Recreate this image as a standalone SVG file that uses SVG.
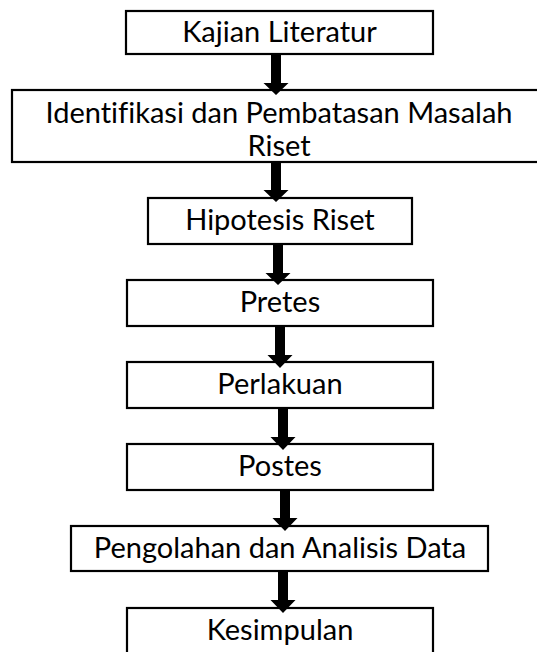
<svg xmlns="http://www.w3.org/2000/svg" width="537" height="652" viewBox="0 0 537 652">
<style>
.box{fill:#fff;stroke:#000;stroke-width:2.2}
.t{font-family:Lato,"Noto Sans",sans-serif;font-size:29px;fill:#000;text-anchor:middle;font-variant-ligatures:none}
.arr{fill:#000}
</style>
<rect width="537" height="652" fill="#fff"/>
<g id="n1"><rect class="box" x="126" y="11" width="307" height="43"/><text class="t" x="279.5" y="42">Kajian Literatur</text></g>
<g id="n2"><rect class="box" x="12" y="90" width="536" height="72"/><text class="t" x="279" y="123">Identifikasi dan Pembatasan Masalah</text><text class="t" x="279" y="156">Riset</text></g>
<g id="n3"><rect class="box" x="148" y="198" width="264" height="46"/><text class="t" x="280" y="230">Hipotesis Riset</text></g>
<g id="n4"><rect class="box" x="127" y="280" width="306" height="46"/><text class="t" x="280" y="312">Pretes</text></g>
<g id="n5"><rect class="box" x="127" y="362" width="306" height="46"/><text class="t" x="280" y="394">Perlakuan</text></g>
<g id="n6"><rect class="box" x="127" y="444" width="306" height="46"/><text class="t" x="280" y="476">Postes</text></g>
<g id="n7"><rect class="box" x="71" y="526" width="417" height="45"/><text class="t" x="280" y="558">Pengolahan dan Analisis Data</text></g>
<g id="n8"><rect class="box" x="127" y="608" width="306" height="50"/><text class="t" x="280" y="640">Kesimpulan</text></g>
<g id="connectors">
<polygon class="arr" points="271,54 281,54 281,83 288.5,83 276,95 263.5,83 271,83"/>
<polygon class="arr" points="271,162 281,162 281,190 288.5,190 276,202 263.5,190 271,190"/>
<polygon class="arr" points="273,244 283,244 283,273 290.5,273 278,285 265.5,273 273,273"/>
<polygon class="arr" points="275,326 285,326 285,355 292.5,355 280,368 267.5,355 275,355"/>
<polygon class="arr" points="278,408 288,408 288,437 295.5,437 283,450 270.5,437 278,437"/>
<polygon class="arr" points="280,490 290,490 290,518 297.5,518 285,531 272.5,518 280,518"/>
<polygon class="arr" points="278,571 288,571 288,600 295.5,600 283,613 270.5,600 278,600"/>
</g>
</svg>
